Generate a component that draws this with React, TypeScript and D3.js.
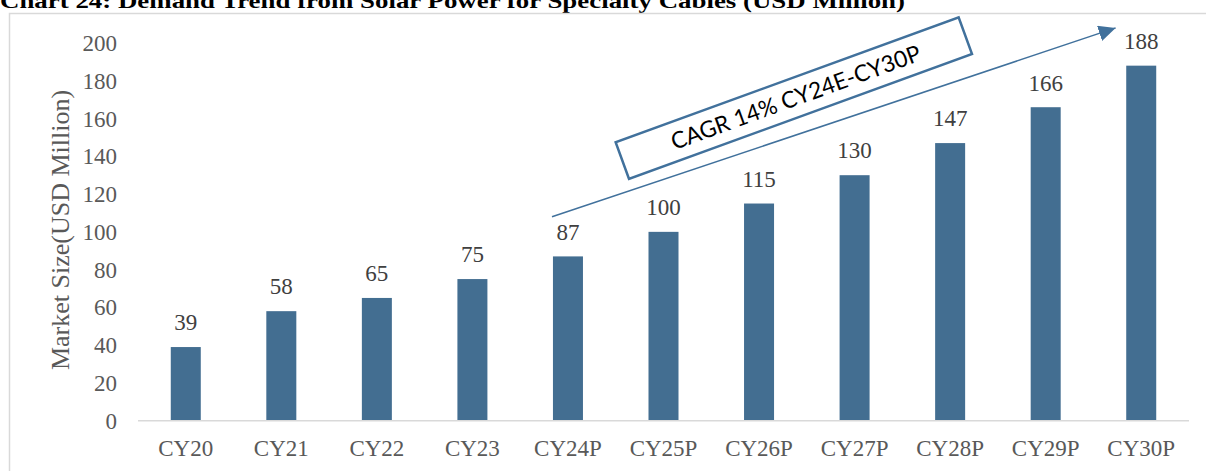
import React from 'react';
import * as d3 from 'd3';

const categories = ['CY20', 'CY21', 'CY22', 'CY23', 'CY24P', 'CY25P', 'CY26P', 'CY27P', 'CY28P', 'CY29P', 'CY30P'];
const values = [39, 58, 65, 75, 87, 100, 115, 130, 147, 166, 188];
const yTicks = [0, 20, 40, 60, 80, 100, 120, 140, 160, 180, 200];

const title = 'Chart 24: Demand Trend from Solar Power for Specialty Cables (USD Million)';
const yTitle = 'Market Size(USD Million)';
const cagrText = 'CAGR 14% CY24E-CY30P';

// annotation anchors in data units (category index, value)
const arrowFrom = { idx: 3.833, value: 108 };
const arrowTo = { idx: 9.732, value: 208 };
const boxCenter = { idx: 6.364, value: 170.8 };

const W = 1206;
const H = 471;
const BAR = '#436e91';

const App = () => {
  const x = d3.scaleBand<string>()
    .domain(categories)
    .range([138, 1189])
    .paddingInner(0.686)
    .paddingOuter(0.343);

  const y = d3.scaleLinear().domain([0, 200]).range([420.7, 43]);

  // continuous position along the category axis (index -> band center)
  const xIdx = d3.scaleLinear()
    .domain([0, categories.length - 1])
    .range([
      x(categories[0])! + x.bandwidth() / 2,
      x(categories[categories.length - 1])! + x.bandwidth() / 2,
    ]);

  const ax = xIdx(arrowFrom.idx);
  const ay = y(arrowFrom.value);
  const bx = xIdx(arrowTo.idx);
  const by = y(arrowTo.value);

  const cx = xIdx(boxCenter.idx);
  const cy = y(boxCenter.value);
  const boxW = 365;
  const boxH = 39;
  const boxAngle = -20;

  return (
    <svg
      width={W}
      height={H}
      style={{ position: 'fixed', left: 0, top: 0, background: '#fff' }}
    >
      <defs>
        <marker
          id="arrowHead"
          markerUnits="userSpaceOnUse"
          markerWidth="18"
          markerHeight="16"
          refX="17"
          refY="8"
          orient="auto"
        >
          <path d="M0,0 L17,8 L0,16 Z" fill="#41719c" />
        </marker>
      </defs>

      {/* title, mostly cut off at the top */}
      <text
        x={0}
        y={8}
        fontFamily="'Liberation Serif', 'Times New Roman', serif"
        fontWeight="bold"
        fontSize={21}
        textLength={905}
        lengthAdjust="spacingAndGlyphs"
        fill="#000"
      >
        {title}
      </text>

      {/* chart frame */}
      <rect x={9.5} y={13.5} width={W + 20} height={H + 20} fill="none" stroke="#d9d9d9" strokeWidth={1.5} />

      {/* y axis labels */}
      {yTicks.map(t => (
        <text
          key={t}
          x={117}
          y={y(t)}
          dy="0.35em"
          textAnchor="end"
          fontFamily="'Liberation Serif', 'Times New Roman', serif"
          fontSize={23}
          fill="#595959"
        >
          {t}
        </text>
      ))}

      <text
        transform={`translate(68.5, 230) rotate(-90)`}
        textAnchor="middle"
        fontFamily="'Liberation Serif', 'Times New Roman', serif"
        fontSize={26}
        fill="#595959"
      >
        {yTitle}
      </text>

      {/* bars */}
      {categories.map((c, i) => (
        <rect
          key={c}
          x={x(c)}
          y={y(values[i])}
          width={x.bandwidth()}
          height={y(0) - y(values[i])}
          fill={BAR}
        />
      ))}

      {/* baseline */}
      <line x1={138} x2={1189} y1={y(0)} y2={y(0)} stroke="#d9d9d9" strokeWidth={1.5} />

      {/* value labels */}
      {categories.map((c, i) => (
        <text
          key={c}
          x={x(c)! + x.bandwidth() / 2}
          y={y(values[i]) - 16.7}
          textAnchor="middle"
          fontFamily="'Liberation Serif', 'Times New Roman', serif"
          fontSize={23}
          fill="#404040"
        >
          {values[i]}
        </text>
      ))}

      {/* x axis labels */}
      {categories.map(c => (
        <text
          key={c}
          x={x(c)! + x.bandwidth() / 2}
          y={456}
          textAnchor="middle"
          fontFamily="'Liberation Serif', 'Times New Roman', serif"
          fontSize={23}
          fill="#595959"
        >
          {c}
        </text>
      ))}

      {/* CAGR arrow */}
      <line x1={ax} y1={ay} x2={bx} y2={by} stroke="#41719c" strokeWidth={1.5} markerEnd="url(#arrowHead)" />

      {/* CAGR box */}
      <g transform={`translate(${cx}, ${cy}) rotate(${boxAngle})`}>
        <rect
          x={-boxW / 2}
          y={-boxH / 2}
          width={boxW}
          height={boxH}
          fill="#fff"
          stroke="#41719c"
          strokeWidth={2.5}
        />
        <text
          x={2}
          y={8}
          textAnchor="middle"
          fontFamily="Lato, 'Open Sans', sans-serif"
          fontSize={23}
          textLength={264}
          lengthAdjust="spacingAndGlyphs"
          fill="#000"
        >
          {cagrText}
        </text>
      </g>
    </svg>
  );
};

export default App;
